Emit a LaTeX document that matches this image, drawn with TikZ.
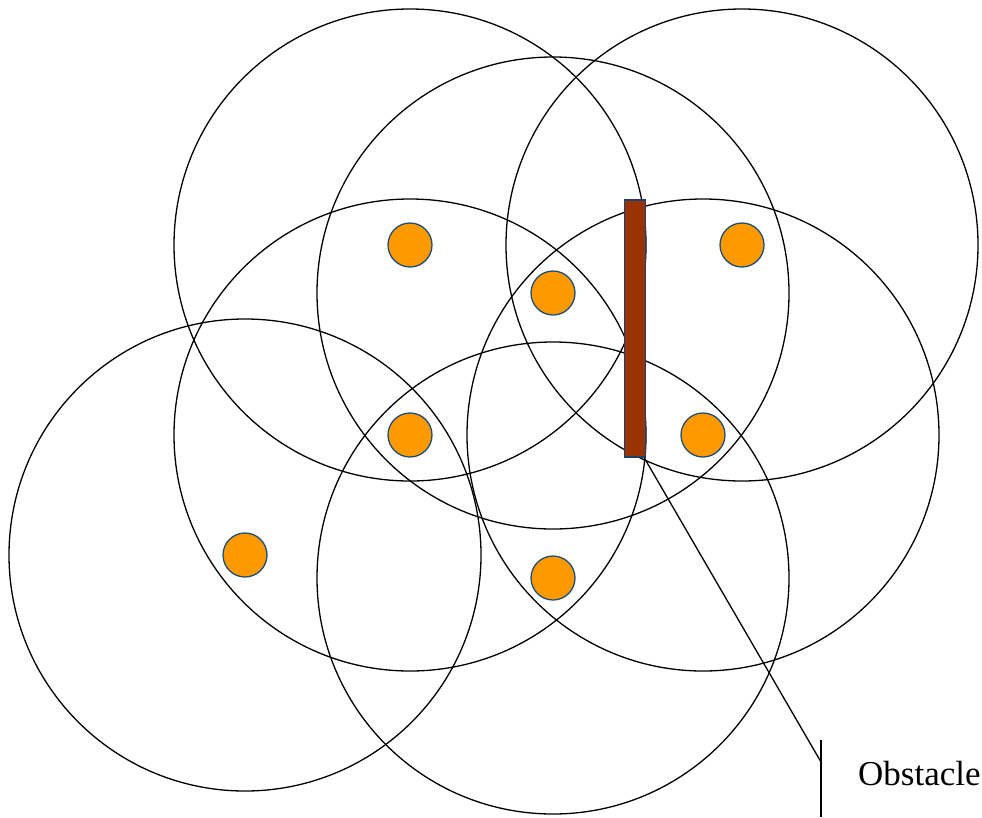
\documentclass[tikz,border=0pt]{standalone}
\usepackage{fontspec}
\setmainfont{Liberation Serif}
\definecolor{dotfill}{HTML}{FF9900}
\definecolor{dotline}{HTML}{1F4E79}
\definecolor{obsfill}{HTML}{993300}
\definecolor{obsline}{HTML}{1F3F6F}
\begin{document}
\begin{tikzpicture}[x=1pt,y=-1pt,
  sensor/.style={circle,draw=dotline,fill=dotfill,line width=1.3pt,minimum size=44pt,inner sep=0pt},
  rangecircle/.style={draw=black,line width=1.3pt},
  obstaclebox/.style={draw=obsline,fill=obsfill,line width=1.3pt,minimum width=21pt,minimum height=257pt,inner sep=0pt},
  callout/.style={draw=black,line width=1.3pt}]
\useasboundingbox (0,0) rectangle (982,817);
\fill[white] (0,0) rectangle (982,817);
% sensor positions
\coordinate (p1) at (410,245);
\coordinate (p2) at (553,293);
\coordinate (p3) at (742,245);
\coordinate (p4) at (410,435);
\coordinate (p5) at (703,435);
\coordinate (p6) at (245,555);
\coordinate (p7) at (553,578);
% range circles
\foreach \p in {p1,p2,p3,p4,p5,p6,p7}{
  \draw[rangecircle] (\p) circle (236pt);
}
% sensors
\node[sensor] (s1) at (p1) {};
\node[sensor] (s2) at (p2) {};
\node[sensor] (s3) at (p3) {};
\node[sensor] (s4) at (p4) {};
\node[sensor] (s5) at (p5) {};
\node[sensor] (s6) at (p6) {};
\node[sensor] (s7) at (p7) {};
% obstacle
\node[obstaclebox] (obs) at (635,328.5) {};
% callout
\coordinate (k) at (821,762);
\coordinate (ktop) at (821,740);
\coordinate (kbot) at (821,817);
\draw[callout] ([xshift=-2pt]obs.south east) -- (k);
\draw[callout] (ktop) -- (kbot);
\node[anchor=base west,inner sep=0pt,font=\fontsize{35}{40}\selectfont] (lbl) at (858,785) {Obstacle};
\end{tikzpicture}
\end{document}
